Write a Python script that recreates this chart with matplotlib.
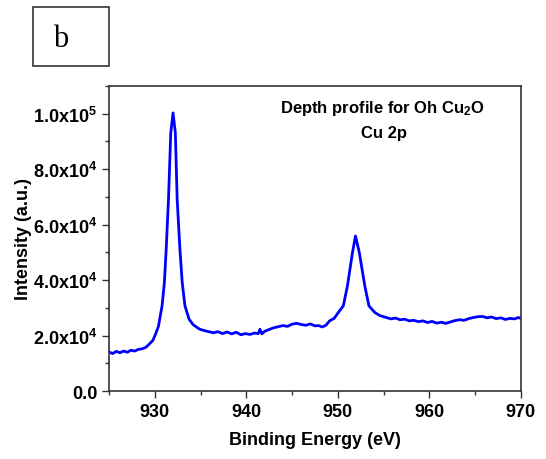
import matplotlib.pyplot as plt
from matplotlib.patches import Rectangle
from matplotlib.ticker import MultipleLocator, FixedLocator

plt.rcParams['font.family'] = ['Liberation Sans', 'DejaVu Sans']
plt.rcParams['mathtext.fontset'] = 'custom'
plt.rcParams['mathtext.rm'] = 'Liberation Sans:bold'
plt.rcParams['mathtext.it'] = 'Liberation Sans:bold'
plt.rcParams['mathtext.bf'] = 'Liberation Sans:bold'

# Cu 2p spectrum (binding energy in eV, intensity in counts)
energy = [925.0, 925.4, 925.8, 926.2, 926.6, 927.0, 927.4, 927.8, 928.2, 928.6,
          929.0, 929.4, 929.8, 930.1, 930.4, 930.8, 931.05, 931.25, 931.5, 931.75,
          932.0, 932.25, 932.45, 932.75, 933.0, 933.3, 933.75, 934.2, 934.9, 935.4,
          935.9, 936.4, 936.9, 937.4, 937.9, 938.4, 938.9, 939.4, 939.9, 940.4,
          940.9, 941.3, 941.5, 941.7, 942.0, 942.5, 943.0, 943.5, 944.0, 944.5,
          945.0, 945.5, 946.0, 946.5, 947.0, 947.5, 947.9, 948.3, 948.7, 949.1,
          949.6, 950.05, 950.6, 951.05, 951.6, 951.93, 952.35, 952.95, 953.4, 954.05,
          954.6, 955.3, 955.8, 956.3, 956.8, 957.3, 957.8, 958.3, 958.8, 959.3,
          959.8, 960.3, 960.8, 961.3, 961.8, 962.3, 962.8, 963.3, 963.8, 964.3,
          964.8, 965.3, 965.8, 966.3, 966.8, 967.3, 967.8, 968.3, 968.8, 969.3,
          969.7, 970.0]
intensity = [14100, 13500, 14300, 13800, 14400, 14000, 14700, 14400, 15000, 15200,
             15700, 16900, 18300, 20600, 23300, 30700, 39100, 51100, 69100, 93100,
             100300, 93100, 69100, 51100, 39100, 30700, 25900, 23900, 22300, 21800,
             21400, 21000, 21400, 20700, 21300, 20600, 21200, 20300, 20700, 20400,
             20900, 20700, 22300, 20600, 21500, 22200, 22800, 23200, 23600, 23300,
             24100, 24400, 24000, 23700, 24200, 23500, 23600, 23100, 23700, 25300,
             26200, 28300, 30700, 37900, 49900, 55900, 49900, 37900, 30700, 28300,
             27200, 26500, 26000, 26300, 25700, 25900, 25300, 25500, 25000, 25300,
             24700, 25100, 24500, 24800, 24400, 24900, 25400, 25700, 25500, 26100,
             26500, 26800, 26900, 26400, 26700, 26100, 26400, 25800, 26200, 26000,
             26500, 26200]

x_ticks = [930, 940, 950, 960, 970]
y_ticks = [0, 20000, 40000, 60000, 80000, 100000]
y_labels = ["0.0", "2.0x10$^4$", "4.0x10$^4$", "6.0x10$^4$", "8.0x10$^4$", "1.0x10$^5$"]

fig = plt.figure(figsize=(5.46, 4.6), dpi=100)
ax = fig.add_axes([0.1996, 0.1478, 0.7544, 0.6631])

ax.plot(energy, intensity, color="#0000FF", linewidth=2)

ax.set_xlim(925, 970)
ax.set_ylim(0, 110000)
ax.xaxis.set_major_locator(FixedLocator(x_ticks))
ax.xaxis.set_minor_locator(MultipleLocator(5))
ax.set_yticks(y_ticks)
ax.set_yticklabels(y_labels)
ax.yaxis.set_minor_locator(MultipleLocator(10000))
ax.tick_params(which="both", direction="out", top=False, right=False,
               labelsize=13, width=1, colors="#333333", labelcolor="black")
ax.tick_params(which="major", length=5)
ax.tick_params(which="minor", length=3)
for lab in ax.get_xticklabels() + ax.get_yticklabels():
    lab.set_fontweight("bold")
for sp in ax.spines.values():
    sp.set_linewidth(1.2)
    sp.set_color("#333333")

ax.set_xlabel("Binding Energy (eV)", fontsize=13, fontweight="bold", labelpad=8)
ax.set_ylabel("Intensity (a.u.)", fontsize=13, fontweight="bold")
ax.yaxis.set_label_coords(-0.187, 0.5)

ax.text(0.663, 0.931, "Depth profile for Oh Cu$_2$O", transform=ax.transAxes,
        ha="center", va="center", fontsize=12, fontweight="bold")
ax.text(0.667, 0.849, "Cu 2p", transform=ax.transAxes,
        ha="center", va="center", fontsize=12, fontweight="bold")

fig.patches.append(Rectangle((33 / 546, 1 - 67 / 460), 76 / 546, 59 / 460,
                             transform=fig.transFigure, fill=False,
                             edgecolor="#333333", linewidth=1.2))
fig.text(61 / 546, 1 - 40 / 460, "b", family="Liberation Serif",
         fontsize=22, ha="center", va="center")

fig.savefig("out.png", dpi=100)
